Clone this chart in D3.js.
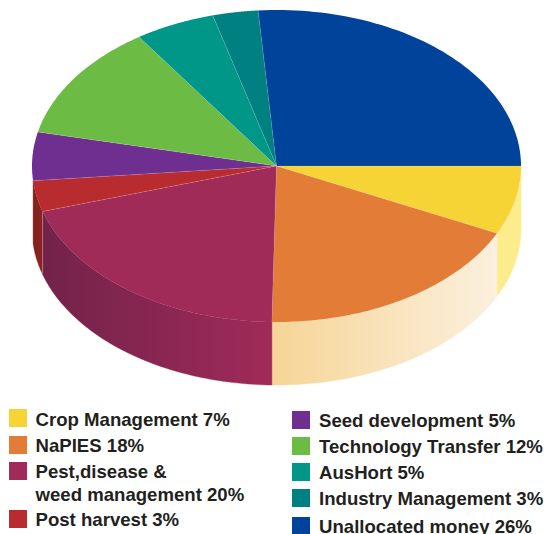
<!DOCTYPE html>
<html><head><meta charset="utf-8">
<script src="https://cdn.jsdelivr.net/npm/d3@7"></script>
<style>html,body{margin:0;padding:0;background:#fff;overflow:hidden}svg{display:block}</style>
</head><body><svg id="c" width="544" height="534"></svg>
<script>
const categories=["Crop Management","NaPIES","Pest,disease & weed management","Post harvest","Seed development","Technology Transfer","AusHort","Industry Management","Unallocated money"];
const shares=[7.1,18.2,20,3.2,5,12.0,5.3,3,26.2];
const topColors=["#f7d436","#e27c36","#a02a58","#b82c2f","#6f2f91","#6cbb45","#009688","#008080","#00439a"];
const wallStart=["#fdec8c","#f6d596","#72234a","#82211f",null,null,null,null,null];
const wallEnd=["#fdec8c","#fbf0de","#a02a58","#8a2321",null,null,null,null,null];
const legendLeft=[["Crop Management 7%"],["NaPIES 18%"],["Pest,disease &","weed management 20%"],["Post harvest 3%"]];
const legendRight=[["Seed development 5%"],["Technology Transfer 12%"],["AusHort 5%"],["Industry Management 3%"],["Unallocated money 26%"]];
const leftSwatchTops=[409,436,462,510], leftBaselines=[[426],[452],[478,501],[526]];
const rightSwatchTops=[411,437,463,489,517], rightBaselines=[[427],[453],[479],[505],[533]];

const svg=d3.select("#c");
const x=d3.scaleLinear().domain([-1,1]).range([32,521]);
const y=d3.scaleLinear().domain([-1,1]).range([10,322]);
const depth=63;
const pie=d3.pie().sort(null).startAngle(Math.PI/2).endAngle(Math.PI/2+2*Math.PI)(shares);
const px=a=>x(Math.sin(a)), py=a=>y(-Math.cos(a));
const line=d3.line();
const samples=(a0,a1)=>d3.range(0,65).map(i=>a0+(a1-a0)*i/64);
const defs=svg.append("defs");

pie.forEach((d,i)=>{
  if(!wallStart[i])return;
  const a0=d.startAngle,a1=Math.min(d.endAngle,Math.PI*1.5);
  const id="w"+i;
  const xr=px(a0),xl=px(a1);
  const g=defs.append("linearGradient").attr("id",id).attr("gradientUnits","userSpaceOnUse")
    .attr("x1",xl).attr("x2",xr).attr("y1",0).attr("y2",0);
  g.append("stop").attr("offset",0).attr("stop-color",wallStart[i]);
  g.append("stop").attr("offset",1).attr("stop-color",wallEnd[i]);
  const top=samples(a0,a1).map(a=>[px(a),py(a)]);
  const bot=top.map(p=>[p[0],p[1]+depth]).reverse();
  svg.append("path").attr("d",line(top.concat(bot))+"Z").attr("fill",`url(#${id})`)
    .attr("stroke",`url(#${id})`).attr("stroke-width",0.4);
});
svg.append("path").attr("d",line([[px(pie[2].endAngle),py(pie[2].endAngle)],[px(pie[2].endAngle),py(pie[2].endAngle)+depth]]))
  .attr("stroke","#c98aa0").attr("stroke-width",0.7).attr("fill","none");

pie.forEach((d,i)=>{
  const pts=[[x(0),y(0)]].concat(samples(d.startAngle,d.endAngle).map(a=>[px(a),py(a)]));
  svg.append("path").attr("d",line(pts)+"Z").attr("fill",topColors[i]);
});
pie.forEach((d,i)=>{
  svg.append("path").attr("d",line([[x(0),y(0)],[px(d.startAngle),py(d.startAngle)]]))
    .attr("stroke","#fff").attr("stroke-opacity",0.2).attr("stroke-width",0.7).attr("fill","none");
});

let legendIndex=0;
function legend(rows,tops,bases,sx,tx){
  rows.forEach((r,i)=>{
    svg.append("rect").attr("x",sx).attr("y",tops[i]).attr("width",18).attr("height",18)
      .attr("fill",topColors[legendIndex++]);
    r.forEach((t,j)=>svg.append("text").attr("x",tx).attr("y",bases[i][j]).text(t)
      .attr("font-family","'Liberation Sans',Arial,sans-serif").attr("font-weight",700)
      .attr("font-size",18.6).attr("fill","#231f20"));
  });
}
legend(legendLeft,leftSwatchTops,leftBaselines,9,35.5);
legend(legendRight,rightSwatchTops,rightBaselines,292,319);
</script></body></html>
